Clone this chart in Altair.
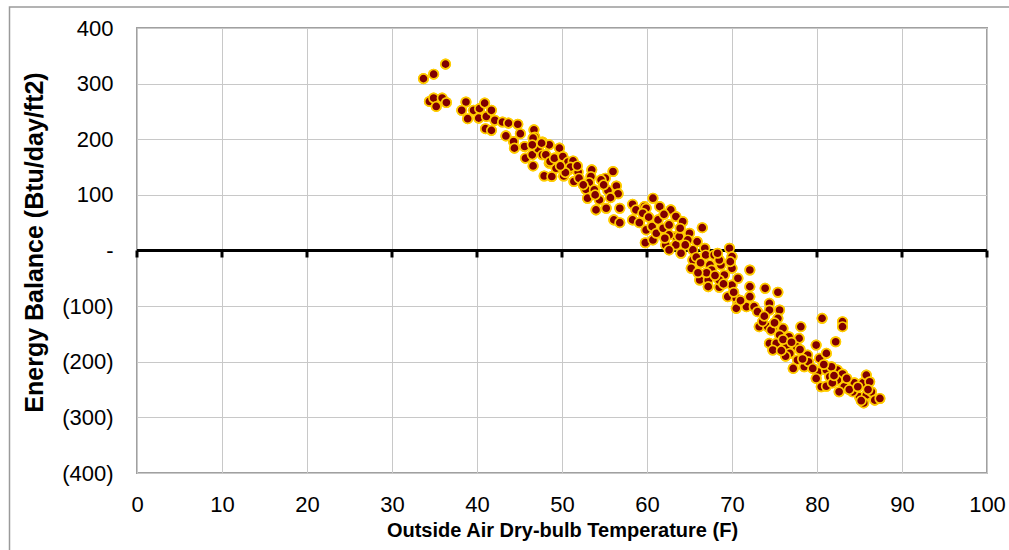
import altair as alt
import pandas as pd

# Outside air dry-bulb temperature (F)
temp = [
    36.3, 34.9, 33.7, 34.4, 34.9, 35.2, 35.9, 36.4, 38.7, 38.2, 38.9, 39.6, 40.3, 40.9, 40.2, 41.1,
    41.7, 41.0, 41.7, 42.1, 43.0, 43.7, 44.8, 43.4, 44.3, 45.1, 44.4, 45.6, 46.7, 46.8, 45.7, 46.5,
    47.2, 46.6, 47.7, 48.5, 47.7, 48.5, 49.3, 47.9, 48.8, 49.3,
    46.6, 46.5, 47.6, 48.1, 48.6, 49.1, 49.7, 50.1, 50.7, 51.3, 50.2, 50.8, 51.9, 51.4, 53.5, 53.4,
    56.0, 55.1, 54.6, 53.2, 52.8, 53.8, 55.4, 56.4, 56.6, 53.0, 54.4, 54.0, 55.2, 56.8, 56.1, 56.8,
    58.3, 58.7, 59.7, 59.9, 60.7, 61.5, 58.3, 59.1, 59.5, 59.9, 60.6, 59.8, 60.7, 61.1, 61.9, 62.2,
    62.8, 63.4, 62.6, 63.4, 62.6, 63.4,
    64.2, 62.1, 62.6, 63.8, 65.0, 64.8, 65.9, 66.5, 65.4, 66.8, 65.4, 65.2, 66.9, 67.9, 67.4, 67.6,
    68.7, 68.5, 69.7, 70.0, 70.0, 69.1, 66.2, 67.2, 67.2, 68.5, 68.5, 70.0, 70.7, 72.1, 69.5, 70.5,
    70.7, 72.1, 72.1, 71.7, 72.6, 73.9, 75.4, 74.4, 74.4, 75.6, 73.2, 74.2, 74.8, 76.0,
    70.5, 73.6, 74.6, 75.4, 75.6, 76.7, 78.1, 77.9, 74.4, 75.2, 76.4, 77.6, 74.8, 76.8, 79.9, 78.9,
    77.7, 77.2, 78.5, 80.3, 81.1, 82.2, 80.6, 83.0, 83.0, 80.1, 79.9, 81.1, 81.5, 82.4, 83.0, 80.5,
    81.1, 82.4, 83.2, 84.4, 85.4, 85.8, 85.0, 85.8,
    81.7, 82.6, 84.2, 86.2, 86.4, 85.5, 86.8, 87.4,
    51.0, 52.0, 52.5, 51.8, 50.4, 49.8, 53.9, 54.9, 55.7, 60.2, 61.3, 62.0, 63.9, 64.5, 64.0, 65.8,
    66.3, 67.0, 68.0, 69.0, 70.2, 71.0, 73.0, 73.8, 75.0, 76.0, 77.0, 78.0, 79.0, 79.5, 80.8, 81.8,
    83.8, 84.8, 86.0, 85.2, 82.0, 83.5, 78.3, 76.3, 75.8, 69.8, 68.3, 66.0,
]

# Energy balance (Btu/day/ft2)
balance = [
    335, 317, 309, 268, 274, 259, 274, 266, 267, 252, 237, 252, 255, 265, 238, 241,
    252, 219, 216, 234, 231, 229, 227, 206, 196, 210, 184, 187, 217, 204, 166, 172,
    183, 152, 195, 190, 172, 157, 166, 134, 133, 148,
    202, 190, 193, 172, 160, 166, 184, 169, 159, 161, 134, 145, 141, 124, 145, 133,
    142, 130, 127, 122, 110, 109, 108, 116, 102, 94, 91, 73, 76, 76, 55, 50,
    83, 73, 79, 76, 94, 79, 55, 50, 67, 37, 43, 14, 19, 31, 40, 10,
    73, 61, 46, 25, 28, 10,
    52, 22, 1, 25, 31, 19, 16, 41, 1, 4, -17, -32, -8, -8, -26, -35,
    -26, -17, 4, -11, -32, -44, -53, -53, -65, -66, -53, -62, -50, -35, -83, -86,
    -98, -65, -83, -101, -101, -68, -75, -95, -107, -107, -137, -137, -140, -140,
    -104, -128, -143, -122, -152, -155, -137, -158, -167, -167, -173, -173, -179, -185, -170, -188,
    -197, -212, -209, -194, -185, -164, -122, -128, -137, -218, -230, -215, -227, -215, -222, -245,
    -244, -233, -245, -238, -238, -224, -263, -260,
    -209, -254, -254, -236, -254, -274, -269, -266,
    150, 130, 118, 152, 140, 152, 100, 118, 95, 60, 55, 65, 40, 10, -5, -12,
    -22, -40, -45, -60, -75, -90, -110, -118, -130, -160, -165, -178, -200, -212, -205, -238,
    -250, -245, -250, -270, -225, -230, -195, -190, -180, -20, -5, -40,
]

x_ticks = list(range(0, 101, 10))
y_ticks = list(range(-400, 401, 100))

df = pd.DataFrame({"T": temp, "E": balance})
ticks_df = pd.DataFrame({"T": x_ticks})
one = pd.DataFrame({"a": [0]})

FONT = "Liberation Sans"
W, H = 850, 445

x_enc = alt.X(
    "T:Q",
    scale=alt.Scale(domain=[0, 100], nice=False),
    axis=alt.Axis(
        values=x_ticks,
        title="Outside Air Dry-bulb Temperature (F)",
        titleFont=FONT, titleFontSize=20, titleFontWeight="bold", titleColor="black",
        titleY=57, titleBaseline="middle",
        labelFont=FONT, labelFontSize=22, labelColor="black", labelPadding=21,
        labelFlush=False,
        ticks=False, domain=False, grid=True, gridColor="#c8c8c8", gridWidth=1,
    ),
)
y_enc = alt.Y(
    "E:Q",
    scale=alt.Scale(domain=[-400, 400], nice=False),
    axis=alt.Axis(
        values=y_ticks,
        title="Energy Balance (Btu/day/ft2)",
        titleFont=FONT, titleFontSize=25, titleFontWeight="bold", titleColor="black",
        titleX=-103, titleY=214, titleBaseline="middle",
        labelFont=FONT, labelFontSize=22, labelColor="black", labelPadding=24,
        labelFlush=False,
        labelExpr="datum.value > 0 ? datum.label : (datum.value == 0 ? '-' : '(' + format(-datum.value, 'd') + ')')",
        ticks=False, domain=False, grid=True, gridColor="#c8c8c8", gridWidth=1,
    ),
)

border = alt.Chart(one).mark_rect(
    fill="white", fillOpacity=0, stroke="#9a9a9a", strokeWidth=1.5
).encode(
    x=alt.value(-127.5), x2=alt.value(900), y=alt.value(-21), y2=alt.value(600)
)

zero_line = alt.Chart(one).mark_rule(color="black", strokeWidth=3).encode(
    y=alt.datum(0, type="quantitative")
)

zero_ticks = alt.Chart(ticks_df).mark_rule(
    color="black", strokeWidth=3, y2Offset=7
).encode(
    x="T:Q",
    y=alt.datum(0, type="quantitative"),
    y2=alt.datum(0),
)

points = alt.Chart(df).mark_point(
    filled=True, shape="circle", size=88, fill="#800000", stroke="#FFCC00",
    strokeWidth=1.7, opacity=1, fillOpacity=1, strokeOpacity=1
).encode(x=x_enc, y=y_enc)

chart = alt.layer(points, border, zero_line, zero_ticks, points).properties(
    width=W, height=H,
    autosize=alt.AutoSizeParams(type="none"),
    padding={"left": 137, "top": 28, "right": 22, "bottom": 77},
    background="white",
).configure_view(
    stroke="#a0a0a0", strokeWidth=2
)

chart.save("out.html", embed_options={"renderer": "svg", "actions": False})
